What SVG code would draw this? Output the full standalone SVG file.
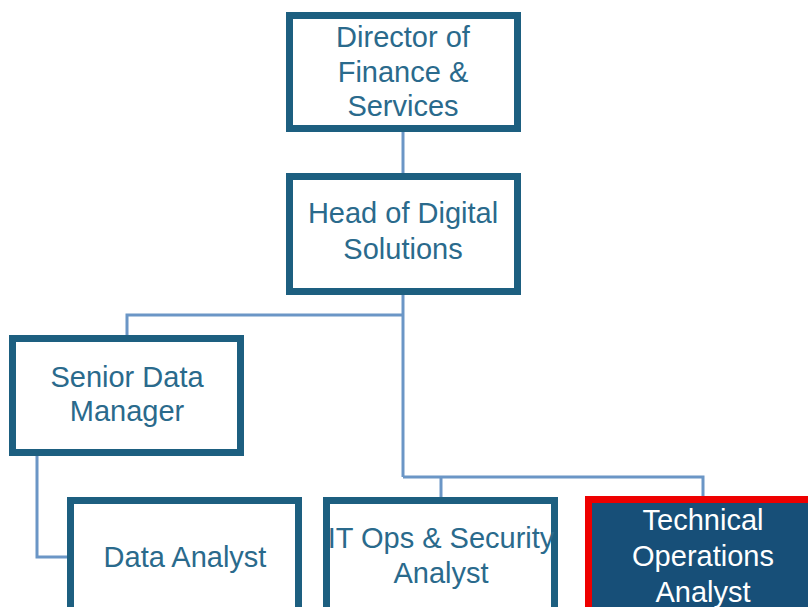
<svg xmlns="http://www.w3.org/2000/svg" width="808" height="607" viewBox="0 0 808 607">
<style>
.box{fill:#ffffff;stroke:#1d5f80;stroke-width:7}
.hl{fill:#174f78;stroke:#ee0000;stroke-width:7}
.t{font-family:"Liberation Sans",Arial,sans-serif;font-size:29px;fill:#2a6a8c;text-anchor:middle}
.w{fill:#ffffff}
.c{fill:none;stroke:#6b96c6;stroke-width:3}
</style>
<rect width="808" height="607" fill="#ffffff"/>
<g id="connectors">
<path class="c" d="M403,132 V173"/>
<path class="c" d="M403,295 V477"/>
<path class="c" d="M127,335 V315 H403"/>
<path class="c" d="M403,477 H703 V497"/>
<path class="c" d="M441,477 V497"/>
<path class="c" d="M37,456 V557 H67"/>
</g>
<g id="director">
<rect class="box" x="289.5" y="15.5" width="228" height="113"/>
<text class="t" x="403" y="47">Director of</text>
<text class="t" x="403" y="82">Finance &amp;</text>
<text class="t" x="403" y="116">Services</text>
</g>
<g id="head">
<rect class="box" x="289.5" y="176.5" width="228" height="115"/>
<text class="t" x="403" y="223">Head of Digital</text>
<text class="t" x="403" y="259">Solutions</text>
</g>
<g id="senior">
<rect class="box" x="12.5" y="338.5" width="228" height="114"/>
<text class="t" x="127" y="387">Senior Data</text>
<text class="t" x="127" y="421">Manager</text>
</g>
<g id="data-analyst">
<rect class="box" x="70.5" y="500.5" width="228" height="120"/>
<text class="t" x="185" y="567">Data Analyst</text>
</g>
<g id="itops">
<rect class="box" x="326.5" y="500.5" width="228" height="120"/>
<text class="t" x="441" y="548">IT Ops &amp; Security</text>
<text class="t" x="441" y="583">Analyst</text>
</g>
<g id="techops">
<rect class="hl" x="588.5" y="499.5" width="229" height="120"/>
<text class="t w" x="703" y="530">Technical</text>
<text class="t w" x="703" y="566">Operations</text>
<text class="t w" x="703" y="602">Analyst</text>
</g>
</svg>
